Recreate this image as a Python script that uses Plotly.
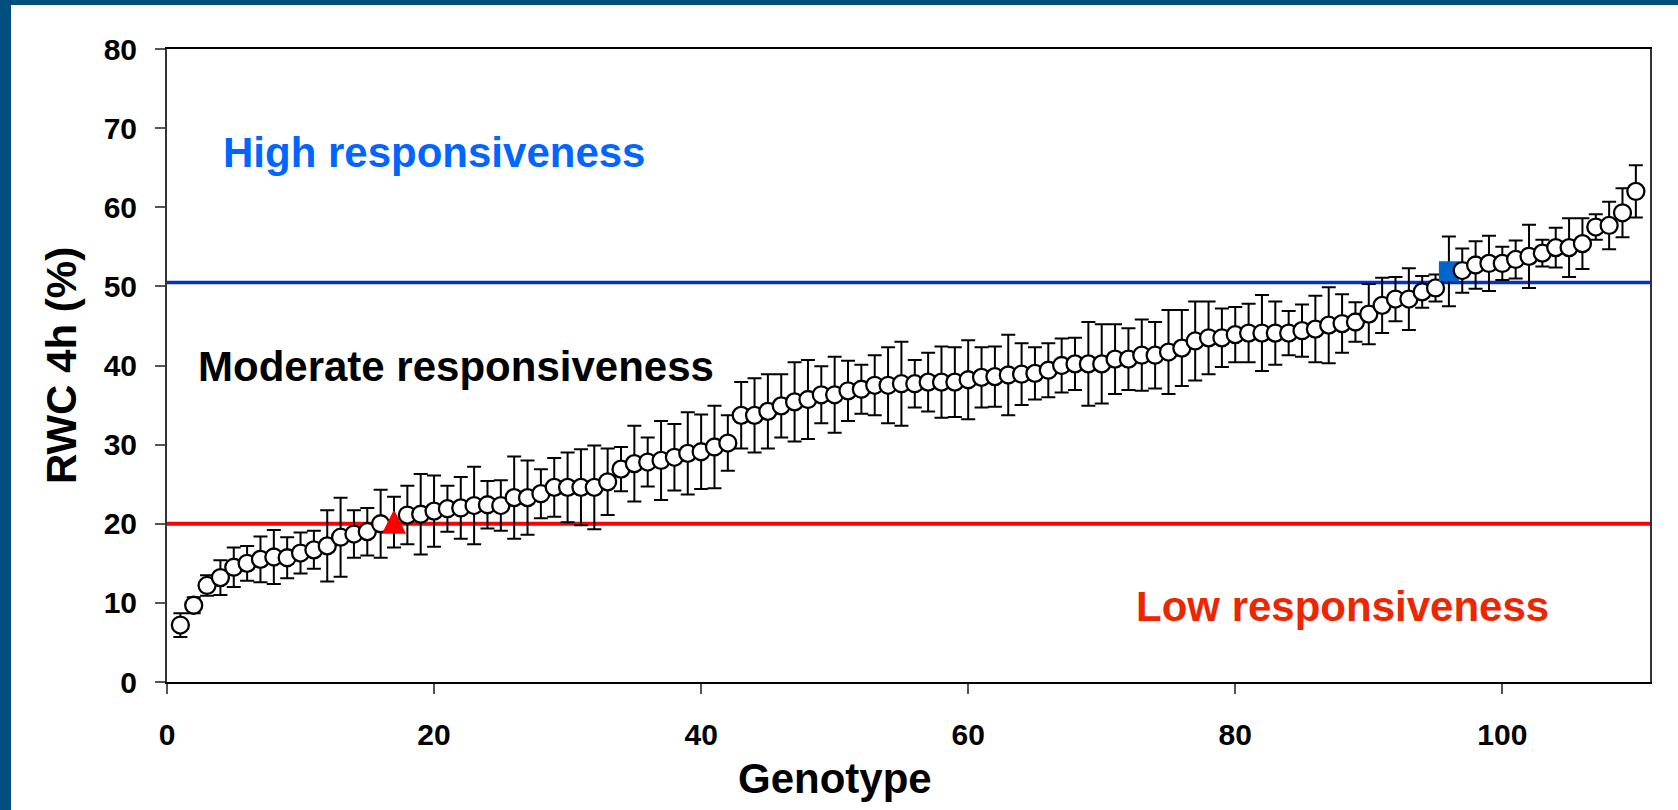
import plotly.graph_objects as go

# Relative water content after 4 h, one value per genotype (sorted ascending)
genotype = list(range(1, 111))
rwc_4h = [
    7.2, 9.7, 12.2, 13.2, 14.5, 15.0, 15.5, 15.8, 15.7, 16.3,
    16.7, 17.2, 18.3, 18.7, 19.0, 20.0, 20.2, 21.1, 21.2, 21.6,
    21.9, 22.0, 22.3, 22.4, 22.3, 23.3, 23.3, 23.8, 24.6, 24.6,
    24.6, 24.6, 25.3, 26.9, 27.6, 27.8, 28.0, 28.4, 28.9, 29.1,
    29.7, 30.2, 33.7, 33.7, 34.2, 34.9, 35.4, 35.7, 36.3, 36.3,
    36.8, 37.0, 37.5, 37.5, 37.7, 37.7, 37.9, 37.9, 37.9, 38.2,
    38.5, 38.6, 38.8, 38.9, 39.0, 39.4, 40.0, 40.2, 40.2, 40.2,
    40.8, 40.8, 41.3, 41.3, 41.7, 42.2, 43.1, 43.5, 43.5, 43.9,
    44.1, 44.1, 44.1, 44.1, 44.4, 44.6, 45.1, 45.3, 45.5, 46.5,
    47.6, 48.4, 48.4, 49.3, 49.8, 51.9, 52.0, 52.7, 52.9, 52.9,
    53.4, 53.8, 54.2, 54.9, 54.9, 55.4, 57.5, 57.7, 59.3, 62.0,
]
rwc_sd = [
    1.5, 1.0, 1.3, 2.2, 2.5, 2.2, 2.9, 3.4, 2.6, 2.6,
    2.4, 4.5, 5.0, 3.0, 3.0, 4.3, 3.2, 3.7, 5.1, 4.5,
    2.9, 3.9, 4.9, 3.0, 3.2, 5.2, 4.7, 3.1, 3.7, 4.4,
    4.8, 5.3, 4.2, 2.8, 4.8, 3.1, 5.0, 4.2, 5.2, 4.7,
    5.2, 3.5, 4.2, 4.7, 4.7, 4.0, 5.0, 5.0, 3.6, 4.8,
    3.8, 3.1, 3.8, 4.8, 5.3, 3.0, 3.7, 4.5, 4.4, 5.0,
    3.8, 3.8, 5.1, 3.9, 3.3, 3.4, 3.4, 3.3, 5.3, 5.0,
    4.4, 3.9, 4.5, 4.2, 5.3, 4.8, 5.0, 4.6, 3.7, 3.5,
    3.7, 4.8, 4.0, 2.8, 3.3, 4.2, 4.8, 3.7, 2.5, 3.8,
    3.5, 2.8, 3.9, 2.0, 1.7, 4.4, 2.8, 3.0, 3.5, 2.1,
    2.4, 4.0, 1.7, 2.5, 3.7, 3.2, 1.6, 3.0, 3.1, 3.3,
]

# Reference genotypes highlighted with their own symbols
low_ref_genotype = 17
high_ref_genotype = 96

# Class thresholds (RWC %)
low_threshold = 20.0
high_threshold = 50.5

x_ticks = [0, 20, 40, 60, 80, 100]
y_ticks = [0, 10, 20, 30, 40, 50, 60, 70, 80]

TRI = 21  # triangle size in px

# The low-responsiveness reference is an upward triangle centred on its value:
# an "arrow-down" head turned by 180 deg and pushed back by half its height.
symbols, colors, sizes, line_colors, line_widths, standoffs, angles = [], [], [], [], [], [], []
for g in genotype:
    if g == low_ref_genotype:
        symbols.append("arrow-down"); colors.append("#ff0000")
        sizes.append(TRI); line_colors.append("#ff0000"); line_widths.append(2)
        standoffs.append(TRI / 2); angles.append(180)
    elif g == high_ref_genotype:
        symbols.append("square"); colors.append("#0066cc")
        sizes.append(18); line_colors.append("#0066cc"); line_widths.append(2)
        standoffs.append(0); angles.append(0)
    else:
        symbols.append("circle"); colors.append("white")
        sizes.append(17); line_colors.append("black"); line_widths.append(2.3)
        standoffs.append(0); angles.append(0)

FONT = "Liberation Sans, Arial, Helvetica, sans-serif"

fig = go.Figure()

# Error bars (drawn first so the markers sit on top of them)
fig.add_trace(go.Scatter(
    x=genotype, y=rwc_4h, mode="markers",
    marker=dict(size=1, color="rgba(0,0,0,0)"),
    error_y=dict(type="data", array=rwc_sd, visible=True,
                 color="black", thickness=2, width=7),
    hoverinfo="skip", showlegend=False,
))

# Genotype means
fig.add_trace(go.Scatter(
    x=genotype, y=rwc_4h, mode="markers",
    marker=dict(symbol=symbols, color=colors, size=sizes, opacity=1,
                standoff=standoffs, angle=angles,
                line=dict(color=line_colors, width=line_widths)),
    showlegend=False,
))

x_max = 111.06

# Threshold lines
fig.add_shape(type="line", xref="x", yref="y", x0=0, x1=x_max,
              y0=high_threshold, y1=high_threshold,
              line=dict(color="#0033cc", width=3.5), layer="below")
fig.add_shape(type="line", xref="x", yref="y", x0=0, x1=x_max,
              y0=low_threshold, y1=low_threshold,
              line=dict(color="#ff0000", width=4), layer="below")

# Class labels
ann_font = dict(family=FONT, size=42, weight="bold")
fig.add_annotation(x=4.07, y=66.9, xref="x", yref="y", text="High responsiveness",
                   showarrow=False, xanchor="left", yanchor="middle",
                   font=dict(ann_font, color="#0066ff"))
fig.add_annotation(x=2.19, y=39.9, xref="x", yref="y", text="Moderate responsiveness",
                   showarrow=False, xanchor="left", yanchor="middle",
                   font=dict(ann_font, color="black"))
fig.add_annotation(x=72.4, y=9.5, xref="x", yref="y", text="Low responsiveness",
                   showarrow=False, xanchor="left", yanchor="middle",
                   font=dict(ann_font, color="#eb2600"))

# Dark blue slide frame along the left and top edges
W_PLOT, H_PLOT = 1483.0, 633.0
L, T, B = 167.0, 49.0, 128.0
def px_x(p):
    return (p - L) / W_PLOT
def px_y(p):
    return (810 - B - p) / H_PLOT
frame_color = "#004f7f"
fig.add_shape(type="rect", xref="paper", yref="paper",
              x0=px_x(0), x1=px_x(11), y0=px_y(810), y1=px_y(0),
              fillcolor=frame_color, line_width=0, layer="above")
fig.add_shape(type="rect", xref="paper", yref="paper",
              x0=px_x(0), x1=px_x(1678), y0=px_y(5), y1=px_y(0),
              fillcolor=frame_color, line_width=0, layer="above")

tick_font = dict(family=FONT, size=30, color="black", weight="bold")
title_font = dict(family=FONT, size=42, color="black", weight="bold")

# x-axis title, centred under genotype 50
fig.add_annotation(x=50, y=px_y(778), xref="x", yref="paper", text="Genotype",
                   showarrow=False, xanchor="center", yanchor="middle",
                   font=title_font)

fig.update_layout(
    width=1678, height=810,
    margin=dict(l=167, r=28, t=49, b=128, pad=0),
    paper_bgcolor="white", plot_bgcolor="white",
    font=dict(family=FONT),
    xaxis=dict(
        range=[0, x_max], tickvals=x_ticks, ticks="outside", ticklen=10,
        tickwidth=1.5, tickcolor="#555555", showgrid=False, zeroline=False,
        showline=True, linecolor="black", linewidth=2, mirror=True,
        tickfont=tick_font, ticklabelstandoff=15,
    ),
    yaxis=dict(
        range=[0, 80], tickvals=y_ticks, ticks="outside", ticklen=10,
        tickwidth=2, tickcolor="#555555", showgrid=False, zeroline=False,
        showline=True, linecolor="#333333", linewidth=2, mirror=True,
        tickfont=tick_font, ticklabelstandoff=12,
        title=dict(text="RWC 4h (%)", font=title_font, standoff=14),
    ),
)

fig.write_html("out.html")
